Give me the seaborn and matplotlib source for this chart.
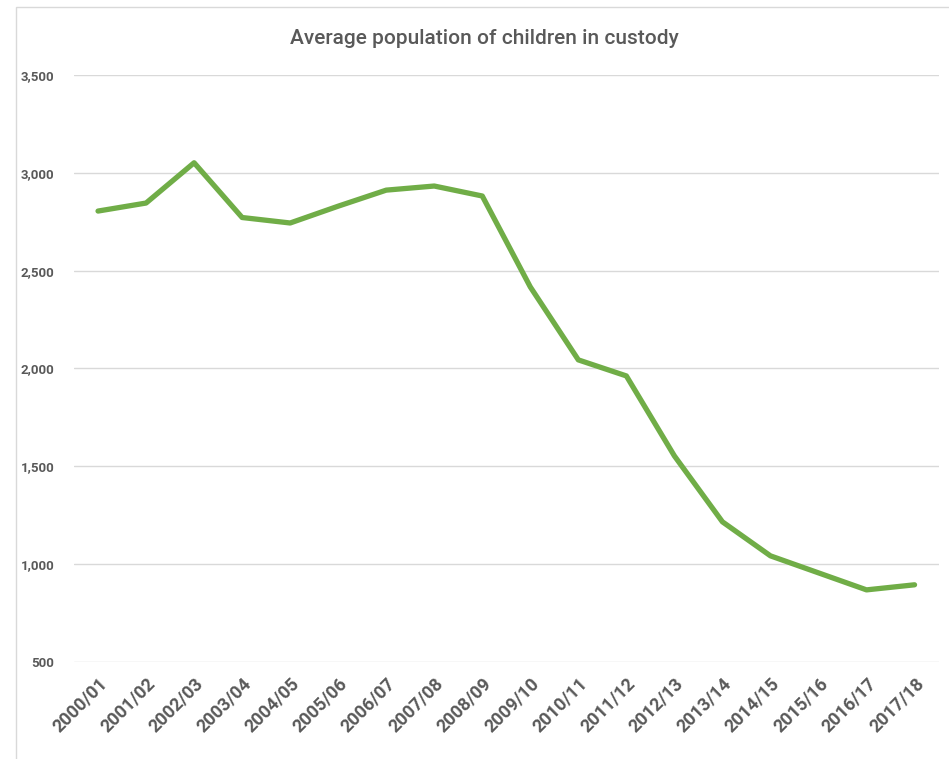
import pandas as pd
import matplotlib.pyplot as plt
import matplotlib.patches as mpatches
import seaborn as sns

years = ['2000/01', '2001/02', '2002/03', '2003/04', '2004/05', '2005/06',
         '2006/07', '2007/08', '2008/09', '2009/10', '2010/11', '2011/12',
         '2012/13', '2013/14', '2014/15', '2015/16', '2016/17', '2017/18']
population = [2805, 2846, 3052, 2772, 2744, 2830, 2912, 2933, 2882, 2417,
              2044, 1962, 1553, 1216, 1042, 955, 868, 894]
y_ticks = [500, 1000, 1500, 2000, 2500, 3000, 3500]

df = pd.DataFrame({'year': years, 'population': population})

sns.set_style('white')
plt.rcParams['font.family'] = ['Roboto', 'DejaVu Sans']

grey = '#595959'
fig = plt.figure(figsize=(9.49, 7.59), dpi=100)
ax = fig.add_axes([0.078, 0.128, 0.911, 0.773])

# category positions
df['pos'] = range(len(df))
sns.lineplot(data=df, x='pos', y='population', ax=ax, color='#70AD47',
             linewidth=3.8, sort=False, solid_capstyle='round')

ax.set_xlim(-0.5, len(years) - 0.5)
ax.set_ylim(500, 3500)
ax.set_yticks(y_ticks)
ax.set_yticklabels([f'{v:,}' for v in y_ticks], fontsize=9.5, fontweight='bold', color=grey)
ax.set_xticks(df['pos'])
ax.set_xticklabels(years, rotation=45, ha='right', rotation_mode='anchor',
                   fontsize=13, fontweight='bold', color=grey)
ax.tick_params(axis='both', length=0)
ax.tick_params(axis='y', pad=14)
ax.tick_params(axis='x', pad=9)
ax.grid(axis='y', color='#D9D9D9', linewidth=1)
ax.set_axisbelow(True)
for s in ax.spines.values():
    s.set_visible(False)
ax.set_xlabel('')
ax.set_ylabel('')

fig.text(484 / 949, 1 - 38 / 759, 'Average population of children in custody',
         ha='center', va='center', fontsize=15, fontweight='medium', color=grey)

# outer chart frame
fig.patches.append(mpatches.Rectangle((16 / 949, -0.01), 1.0, 1 - 7 / 759 + 0.01,
                                      transform=fig.transFigure, fill=False,
                                      edgecolor='#D9D9D9', linewidth=1))

fig.savefig('out.png', dpi=100)
